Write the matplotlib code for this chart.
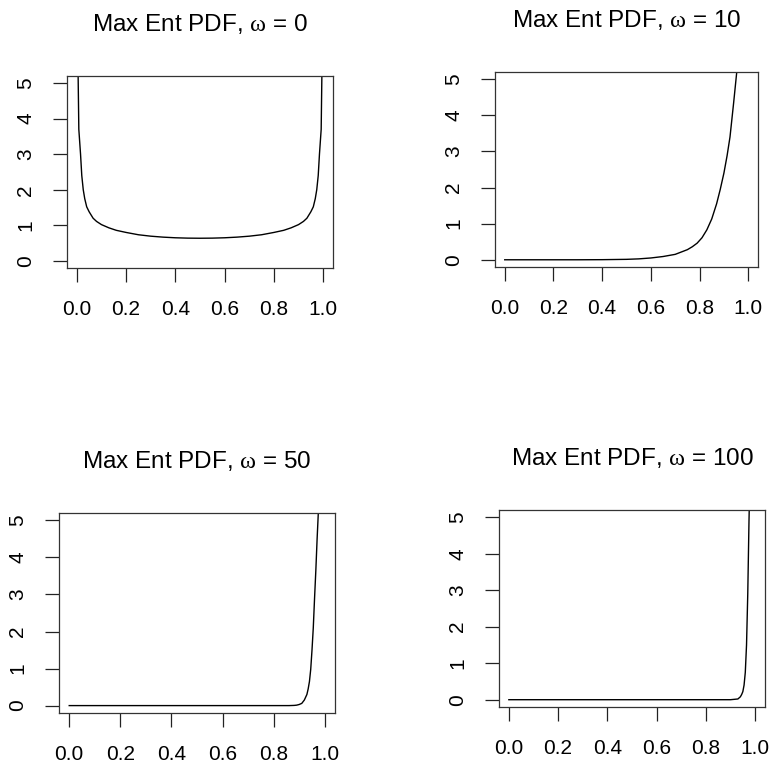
import matplotlib
matplotlib.use('Agg')
import matplotlib.pyplot as plt

plt.rcParams['font.family'] = ['Liberation Sans', 'DejaVu Sans']
plt.rcParams['mathtext.fontset'] = 'custom'
plt.rcParams['mathtext.rm'] = 'Liberation Serif'
plt.rcParams['mathtext.it'] = 'Liberation Serif:italic'

# curves, one per omega
omegas = [0, 10, 50, 100]

x_w0 = [0.005, 0.008, 0.015, 0.02, 0.026, 0.032, 0.04, 0.05, 0.066, 0.08, 0.10, 0.13,
        0.16, 0.20, 0.25, 0.30, 0.35, 0.40, 0.45, 0.50, 0.55, 0.60, 0.65, 0.70,
        0.75, 0.80, 0.84, 0.87, 0.90, 0.92, 0.934, 0.95, 0.96, 0.968, 0.974, 0.98,
        0.985, 0.992, 0.995]
y_w0 = [5.3, 3.7, 3.0, 2.4, 2.0, 1.75, 1.52, 1.38, 1.2, 1.11, 1.02, 0.93,
        0.86, 0.80, 0.735, 0.695, 0.668, 0.65, 0.64, 0.637, 0.64, 0.65, 0.668, 0.695,
        0.735, 0.80, 0.86, 0.93, 1.02, 1.11, 1.2, 1.38, 1.52, 1.75, 2.0, 2.4,
        3.0, 3.7, 5.3]

x_w10 = [0.0, 0.1, 0.2, 0.3, 0.4, 0.5, 0.55, 0.6, 0.65, 0.7, 0.75, 0.77, 0.79, 0.81,
         0.83, 0.85, 0.87, 0.885, 0.9, 0.913, 0.925, 0.94, 0.955]
y_w10 = [0.0, 0.0, 0.0, 0.0, 0.003, 0.012, 0.025, 0.05, 0.09, 0.15, 0.28, 0.36, 0.46, 0.61,
         0.83, 1.13, 1.55, 1.95, 2.4, 2.88, 3.4, 4.35, 5.35]

x_w50 = [0.0, 0.2, 0.4, 0.6, 0.8, 0.86, 0.88, 0.89, 0.9, 0.91, 0.92, 0.93, 0.935,
         0.94, 0.945, 0.95, 0.955, 0.96, 0.965, 0.97, 0.976]
y_w50 = [0.0, 0.0, 0.0, 0.0, 0.0, 0.0, 0.005, 0.012, 0.03, 0.06, 0.15, 0.3, 0.45,
         0.65, 0.98, 1.5, 2.1, 2.9, 3.65, 4.5, 5.4]

x_w100 = [0.0, 0.2, 0.4, 0.6, 0.8, 0.9, 0.93, 0.94, 0.945, 0.95, 0.955, 0.96, 0.965,
          0.97, 0.975, 0.98]
y_w100 = [0.0, 0.0, 0.0, 0.0, 0.0, 0.0, 0.02, 0.08, 0.14, 0.22, 0.4, 0.75, 1.5,
          2.9, 4.9, 6.5]

xs = [x_w0, x_w10, x_w50, x_w100]
ys = [y_w0, y_w10, y_w50, y_w100]

x_ticks = [0.0, 0.2, 0.4, 0.6, 0.8, 1.0]
x_labels = ['0.0', '0.2', '0.4', '0.6', '0.8', '1.0']
y_ticks = [0, 1, 2, 3, 4, 5]
y_labels = ['0', '1', '2', '3', '4', '5']

W, H = 772, 763
# plot boxes in pixels: left, right, top, bottom (panels are not aligned)
boxes = [(67, 333, 76, 268), (495, 758, 72, 267),
         (59, 335, 513, 713), (499, 765, 510, 707)]

fig = plt.figure(figsize=(W / 100, H / 100), dpi=100)

for om, x, y, (l, r, t, b) in zip(omegas, xs, ys, boxes):
    ax = fig.add_axes([l / W, (H - b) / H, (r - l) / W, (b - t) / H])
    ax.plot(x, y, color='black', linewidth=1.0)
    ax.set_xlim(-0.04, 1.04)
    ax.set_ylim(-0.2, 5.2)
    ax.set_xticks(x_ticks)
    ax.set_xticklabels(x_labels)
    ax.set_yticks(y_ticks)
    ax.set_yticklabels(y_labels, rotation=90, va='center')
    ax.tick_params(direction='out', length=10, width=0.9, labelsize=15, pad=13,
                   color='#222222')
    for s in ax.spines.values():
        s.set_linewidth(0.9)
        s.set_color('#333333')
    ax.set_title('Max Ent PDF, $\\mathrm{\\omega}$ = %d' % om, fontsize=17.5, pad=32.5)

fig.savefig('out.png', dpi=100)
